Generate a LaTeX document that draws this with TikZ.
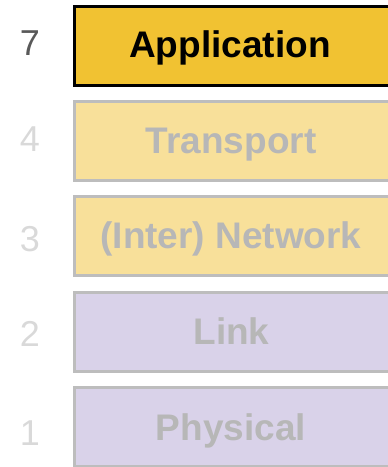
\documentclass[tikz,border=0pt]{standalone}
\usepackage{fontspec}
\setmainfont{Liberation Sans}
\definecolor{appfill}{HTML}{F1C232}
\definecolor{lyellow}{HTML}{F8E09A}
\definecolor{lavender}{HTML}{D9D2E9}
\definecolor{greyline}{HTML}{BDBDBD}
\definecolor{greytext}{HTML}{B7B7B7}
\definecolor{numgrey}{HTML}{D9D9D9}
\definecolor{numdark}{HTML}{595959}
\tikzset{
  layer/.style={draw=greyline, line width=3pt, minimum width=318pt, minimum height=79pt,
    inner sep=0pt, anchor=west},
  active/.style={draw=black, fill=appfill},
  lbl/.style={font=\fontsize{37}{37}\selectfont\bfseries, text=greytext, anchor=base, inner sep=0pt},
  num/.style={font=\fontsize{36}{36}\selectfont, text=numgrey, anchor=base, inner sep=0pt},
}
\begin{document}
\begin{tikzpicture}[x=1pt,y=-1pt]
\useasboundingbox (0,0) rectangle (388,467);
\begin{scope}
\clip (0,0) rectangle (388,467);
\node[layer, active] (app) at (72.5,45.5) {};
\node[layer, fill=lyellow] (trans) at (72.5,141) {};
\node[layer, fill=lyellow] (net) at (72.5,236) {};
\node[layer, fill=lavender] (link) at (72.5,332) {};
\node[layer, fill=lavender] (phys) at (72.5,427) {};
\end{scope}
\node[lbl, text=black] (tapp) at (230,57) {Application};
\node[lbl] (ttrans) at (231,153.3) {Transport};
\node[lbl] (tnet) at (231,248.5) {(Inter) Network};
\node[lbl] (tlink) at (231.5,344) {Link};
\node[lbl] (tphys) at (231,440) {Physical};
\node[num, text=numdark] (n7) at (30,55) {7};
\node[num] (n4) at (30,151) {4};
\node[num] (n3) at (30,251) {3};
\node[num] (n2) at (30,346) {2};
\node[num] (n1) at (30,445) {1};
\end{tikzpicture}
\end{document}
